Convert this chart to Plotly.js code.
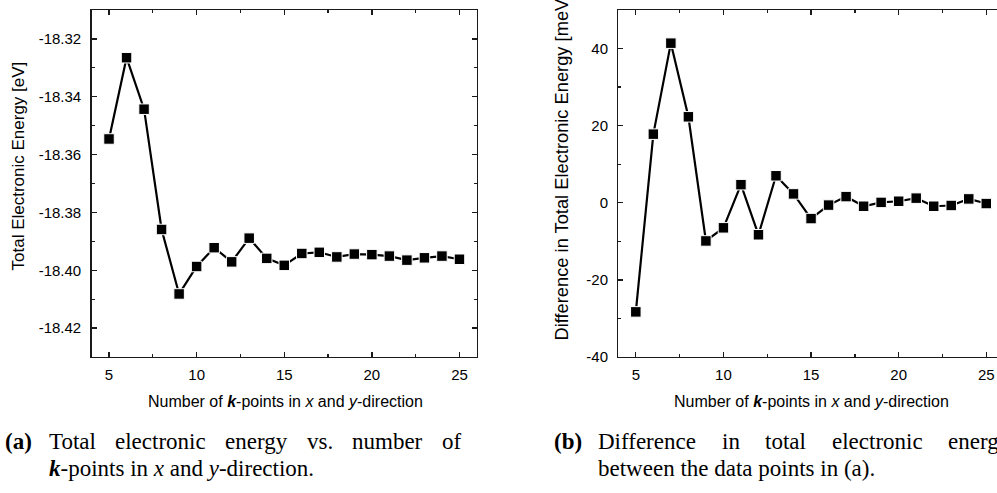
<!DOCTYPE html>
<html><head><meta charset="utf-8">
<script src="https://cdn.plot.ly/plotly-3.0.1.min.js"></script>
<style>html,body{margin:0;padding:0;overflow:hidden;background:#fff}#chart{width:1010px;height:493px}</style>
</head><body><div id="chart"></div>
<script>
// ---- data ----
const kPoints = [5,6,7,8,9,10,11,12,13,14,15,16,17,18,19,20,21,22,23,24,25];
const totalEnergy = [-18.3546,-18.3265,-18.3443,-18.3859,-18.4082,-18.3987,-18.3922,-18.3971,-18.3889,-18.3959,-18.3983,-18.3942,-18.3938,-18.3954,-18.3944,-18.3946,-18.3951,-18.3965,-18.3957,-18.3951,-18.3962];
const energyDiff = [-28.3,17.8,41.4,22.3,-9.9,-6.5,4.7,-8.3,7.0,2.3,-4.1,-0.6,1.6,-0.9,0.1,0.4,1.2,-0.9,-0.7,1.0,-0.2];
const xTickVals = [5,10,15,20,25];
const xTickText = ["5","10","15","20","25"];
const leftTickVals = [-18.42,-18.40,-18.38,-18.36,-18.34,-18.32];
const leftTickText = ["-18.42","-18.40","-18.38","-18.36","-18.34","-18.32"];
const rightTickVals = [-40,-20,0,20,40];
const rightTickText = ["-40","-20","0","20","40"];
const leftYTitle = "Total Electronic Energy [eV]";
const rightYTitle = "Difference in Total Electronic Energy [meV]";
const xTitle = "Number of <b><i>k</i></b>-points in <i>x</i> and <i>y</i>-direction";
const captionA1 = ["Total","electronic","energy","vs.","number","of"];
const captionA2 = "<b><i>k</i></b>-points in <i>x</i> and <i>y</i>-direction.";
const captionB1 = ["Difference","in","total","electronic","energy"];
const captionB2 = "between the data points in (a).";

// ---- layout helpers ----
const W = 1010, H = 493;
const px = x => x / W, py = y => 1 - y / H;
const sans = "Liberation Sans, Arial, sans-serif";
const serifName = "Liberation Serif";
const serif = serifName + ", Times New Roman, serif";
const capSize = 23;
const axCol = "#1a1a1a";

function axisBase(extra){
  return Object.assign({
    showline:true, linecolor:axCol, linewidth:1.3, mirror:'ticks',
    ticks:'inside', ticklen:5, tickwidth:1.3, tickcolor:axCol,
    showgrid:false, zeroline:false, tickmode:'array',
    tickfont:{family:sans, size:15, color:'#000'}
  }, extra);
}

// justified caption line: words spread between x0 and x1 (pixel coords)
const measureCtx = document.createElement('canvas').getContext('2d');
function justifiedWords(words, x0, x1, y){
  measureCtx.font = capSize + 'px "' + serifName + '"';
  const widths = words.map(w => measureCtx.measureText(w).width);
  const total = widths.reduce((a,b)=>a+b,0);
  const gap = (x1 - x0 - total) / (words.length - 1);
  let x = x0;
  return words.map((w,i) => {
    const a = {xref:'paper', yref:'paper', x:px(x), y:py(y), text:w, showarrow:false,
      xanchor:'left', yanchor:'middle', borderpad:0, font:{family:serif, size:capSize, color:'#000'}};
    x += widths[i] + gap;
    return a;
  });
}
function capText(text, x, y){
  return {xref:'paper', yref:'paper', x:px(x), y:py(y), text:text, showarrow:false,
    xanchor:'left', yanchor:'middle', borderpad:0, font:{family:serif, size:capSize, color:'#000'}};
}

const annotations = [
  {xref:'paper', yref:'paper', x:px(18.5), y:py(166), text:leftYTitle, textangle:-90, showarrow:false,
   xanchor:'center', yanchor:'middle', font:{family:sans, size:17, color:'#000'}},
  {xref:'paper', yref:'paper', x:px(561), y:py(343), text:rightYTitle, textangle:-90, showarrow:false,
   xanchor:'center', yanchor:'bottom', font:{family:sans, size:18.3, color:'#000'}},
  {xref:'paper', yref:'paper', x:px(285), y:py(401), text:xTitle, showarrow:false,
   xanchor:'center', yanchor:'middle', font:{family:sans, size:16, color:'#000'}},
  {xref:'paper', yref:'paper', x:px(811), y:py(401), text:xTitle, showarrow:false,
   xanchor:'center', yanchor:'middle', font:{family:sans, size:16, color:'#000'}},
  capText("<b>(a)</b>", 4, 441),
  capText(captionA2, 48, 468),
  capText("<b>(b)</b>", 553, 441),
  capText(captionB2, 597, 468)
].concat(justifiedWords(captionA1, 48, 460, 441))
 .concat(justifiedWords(captionB1, 597, 1009, 441));

const layout = {
  width:W, height:H, margin:{l:0,r:0,t:0,b:0},
  paper_bgcolor:'#fff', plot_bgcolor:'#fff', showlegend:false,
  xaxis: axisBase({domain:[px(91.5), px(477)], range:[4,26], tickvals:xTickVals, ticktext:xTickText,
    ticklabelstandoff:4, minor:{ticks:'inside', ticklen:3, dtick:2.5, tick0:0, tickcolor:axCol, tickwidth:1.3}, anchor:'y'}),
  yaxis: axisBase({domain:[py(357), py(10)], range:[-18.43,-18.31], tickvals:leftTickVals, ticktext:leftTickText,
    ticklabelstandoff:6, minor:{ticks:'inside', ticklen:3, dtick:0.01, tick0:-18.43, tickcolor:axCol, tickwidth:1.3}, anchor:'x'}),
  xaxis2: axisBase({domain:[px(618.3), px(1003.8)], range:[4,26], tickvals:xTickVals, ticktext:xTickText,
    ticklabelstandoff:4, minor:{ticks:'inside', ticklen:3, dtick:2.5, tick0:0, tickcolor:axCol, tickwidth:1.3}, anchor:'y2'}),
  yaxis2: axisBase({domain:[py(357), py(10)], range:[-40,50], tickvals:rightTickVals, ticktext:rightTickText,
    ticklabelstandoff:6, minor:{ticks:'inside', ticklen:3, dtick:10, tick0:0, tickcolor:axCol, tickwidth:1.3}, anchor:'x2'}),
  annotations: annotations
};

const markerStyle = {symbol:'square', size:10.5, color:'#000', line:{color:'#fff', width:1}};
const traces = [
  {x:kPoints, y:totalEnergy, xaxis:'x', yaxis:'y', type:'scatter', mode:'lines+markers',
   line:{color:'#000', width:2.2}, marker:markerStyle, cliponaxis:false},
  {x:kPoints, y:energyDiff, xaxis:'x2', yaxis:'y2', type:'scatter', mode:'lines+markers',
   line:{color:'#000', width:2.2}, marker:markerStyle, cliponaxis:false}
];
Plotly.newPlot('chart', traces, layout, {staticPlot:true, displayModeBar:false});
</script></body></html>
